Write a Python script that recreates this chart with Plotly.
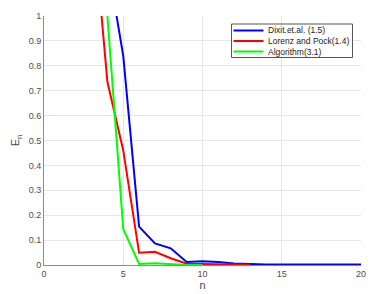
import plotly.graph_objects as go

n_blue = list(range(4, 21))
e_blue = [1.22, 0.84, 0.154, 0.087, 0.067, 0.012, 0.015, 0.012, 0.006, 0.003, 0.002, 0.002, 0.002, 0.002, 0.002, 0.002, 0.002]
n_red = list(range(3, 14))
e_red = [1.45, 0.736, 0.46, 0.049, 0.053, 0.027, 0.005, 0.005, 0.003, 0.002, 0.001]
n_green = list(range(3, 11))
e_green = [2.5, 1.0, 0.145, 0.004, 0.007, 0.002, 0.0, 0.0]

names = ["Dixit.et.al. (1.5)", "Lorenz and Pock(1.4)", "Algorithm(3.1)"]
colors = ["#0000ff", "#ff0000", "#00ff00"]

x_ticks = [0, 5, 10, 15, 20]
y_ticks = [0, 0.1, 0.2, 0.3, 0.4, 0.5, 0.6, 0.7, 0.8, 0.9, 1]
y_tick_text = ["0", "0.1", "0.2", "0.3", "0.4", "0.5", "0.6", "0.7", "0.8", "0.9", "1"]

W, H = 373, 294
L, R, T, B = 44, 12, 16, 29
PW, PH = W - L - R, H - T - B

def px(xp):
    return (xp - L) / PW

def py(yp):
    return (H - B - yp) / PH

FONT = "Liberation Sans, Arial"

fig = go.Figure()
for xs, ys, nm, c in [(n_blue, e_blue, names[0], colors[0]),
                      (n_red, e_red, names[1], colors[1]),
                      (n_green, e_green, names[2], colors[2])]:
    fig.add_trace(go.Scatter(x=xs, y=ys, mode="lines", name=nm,
                             line=dict(color=c, width=2), showlegend=False))

# manual legend box
shapes = [dict(type="rect", xref="paper", yref="paper",
               x0=px(231.5), x1=px(352.5), y0=py(57.5), y1=py(24),
               line=dict(color="#555555", width=1), fillcolor="white", layer="above")]
annotations = []
row_y = [30.5, 41, 51.5]
for ry, nm, c in zip(row_y, names, colors):
    shapes.append(dict(type="line", xref="paper", yref="paper",
                       x0=px(233.5), x1=px(263.5), y0=py(ry), y1=py(ry),
                       line=dict(color=c, width=2), layer="above"))
    annotations.append(dict(xref="paper", yref="paper", x=px(266), y=py(ry),
                            xanchor="left", yanchor="middle", showarrow=False,
                            text=nm, font=dict(family=FONT, size=8.5, color="#222222")))

axis_common = dict(showgrid=True, gridcolor="#e6e6e6", gridwidth=1,
                   showline=True, linecolor="#8c8c8c", linewidth=1,
                   ticks="", zeroline=False, automargin=False,
                   tickfont=dict(family=FONT, size=9, color="#4d4d4d"))

fig.update_layout(
    width=W, height=H,
    margin=dict(l=L, r=R, t=T, b=B),
    paper_bgcolor="white", plot_bgcolor="white",
    showlegend=False,
    shapes=shapes, annotations=annotations,
    xaxis=dict(range=[0, 20], tickvals=x_ticks, **axis_common,
               title=dict(text="n", standoff=2,
                          font=dict(family=FONT, size=11, color="#4d4d4d"))),
    yaxis=dict(range=[0, 1], tickvals=y_ticks, ticktext=y_tick_text, **axis_common,
               title=dict(text="E<sub>n</sub>", standoff=6,
                          font=dict(family=FONT, size=11, color="#4d4d4d"))),
)
fig.write_html("out.html", config={"displayModeBar": False},
               post_script="document.body.style.margin='0';document.body.style.padding='0';")
